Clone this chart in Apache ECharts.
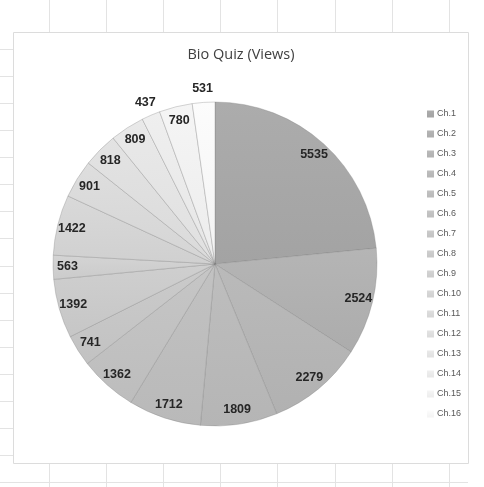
<!DOCTYPE html>
<html>
<head>
<meta charset="utf-8">
<style>
  html, body { margin: 0; padding: 0; background: #ffffff; }
  #chart { width: 484px; height: 487px; }
</style>
<script src="https://cdn.jsdelivr.net/npm/echarts@6/dist/echarts.min.js"></script>
</head>
<body>
<div id="chart"></div>
<script>
// ---- data ----
const categories = ['Ch.1','Ch.2','Ch.3','Ch.4','Ch.5','Ch.6','Ch.7','Ch.8','Ch.9','Ch.10','Ch.11','Ch.12','Ch.13','Ch.14','Ch.15','Ch.16'];
const views = [5535, 2524, 2279, 1809, 1712, 1362, 741, 1392, 563, 1422, 901, 818, 809, 437, 780, 531];
const outsideLabels = ['Ch.14', 'Ch.16'];
const sliceColors = ['#a7a7a7','#b0b0b0','#b5b5b5','#b9b9b9','#bdbdbd','#c1c1c1','#c6c6c6','#cacaca','#cfcfcf','#d4d4d4','#d9d9d9','#dedede','#e4e4e4','#eaeaea','#f0f0f0','#f7f7f7'];

function lighten(hex, amt) {
  const v = Math.max(0, Math.min(255, parseInt(hex.slice(1, 3), 16) + amt));
  const h = v.toString(16).padStart(2, '0');
  return '#' + h + h + h;
}

// ---- background spreadsheet grid ----
const gridColor = '#e3e3e3';
const graphics = [];
const vLines = [49, 106, 163, 220, 277, 335, 392, 449];
vLines.forEach(x => graphics.push({ type: 'line', z: -10, shape: { x1: x + 0.5, y1: 0, x2: x + 0.5, y2: 487 }, style: { stroke: gridColor, lineWidth: 1 } }));
for (let k = 0; k < 17; k++) {
  const y = Math.round(49 + 27.07 * k) + 0.5;
  graphics.push({ type: 'line', z: -10, shape: { x1: 0, y1: y, x2: 468, y2: y }, style: { stroke: gridColor, lineWidth: 1 } });
}
graphics.push({ type: 'rect', z: -5, shape: { x: 13.5, y: 32.5, width: 455, height: 431 }, style: { fill: '#ffffff', stroke: '#dcdcdc', lineWidth: 1 } });

const mainData = categories.map((name, i) => ({
  name, value: views[i],
  itemStyle: {
    color: { type: 'linear', x: 0, y: 0, x2: 0, y2: 1, colorStops: [
      { offset: 0, color: lighten(sliceColors[i], 5) },
      { offset: 1, color: lighten(sliceColors[i], -4) }
    ] }
  }
}));
const inData = categories.map((name, i) => ({ name, value: views[i], label: { show: outsideLabels.indexOf(name) < 0 } }));
const outData = categories.map((name, i) => ({ name, value: views[i], label: { show: outsideLabels.indexOf(name) >= 0 } }));

const labelStyle = {
  position: 'inside', rotate: 0,
  color: '#262626', fontFamily: 'Liberation Sans, Arial, sans-serif',
  fontWeight: 'bold', fontSize: 12.5,
  formatter: p => String(p.value)
};
const overlayCommon = {
  type: 'pie', center: [215, 264], startAngle: 90, clockwise: true,
  silent: true, avoidLabelOverlap: false,
  itemStyle: { color: 'transparent', borderWidth: 0 },
  emphasis: { disabled: true }, labelLine: { show: false },
  label: labelStyle, animation: false, z: 5
};

const chart = echarts.init(document.getElementById('chart'), null, { renderer: 'canvas' });
chart.setOption({
  backgroundColor: '#ffffff',
  animation: false,
  graphic: graphics,
  title: {
    text: 'Bio Quiz (Views)', left: 241, textAlign: 'center', top: 47, padding: 0,
    textStyle: { fontFamily: 'Open Sans, sans-serif', fontSize: 14.5, fontWeight: 'normal', color: '#404040' }
  },
  legend: {
    orient: 'vertical', left: 422, top: 103,
    data: categories, icon: 'rect', itemWidth: 7, itemHeight: 7, itemGap: 8,
    selectedMode: false,
    itemStyle: { borderWidth: 0 },
    textStyle: { fontFamily: 'Liberation Sans, Arial, sans-serif', fontSize: 9, color: '#595959', lineHeight: 12, padding: [0, 0, 0, -2] }
  },
  series: [
    {
      type: 'pie', name: 'Views', center: [215, 264], radius: [0, 162],
      startAngle: 90, clockwise: true, avoidLabelOverlap: false,
      data: mainData,
      itemStyle: { borderColor: 'rgba(120,120,120,0.3)', borderWidth: 1 },
      label: { show: false }, labelLine: { show: false },
      emphasis: { disabled: true }, silent: true, animation: false
    },
    Object.assign({}, overlayCommon, { name: 'labelsIn', radius: [127, 162], data: inData }),
    Object.assign({}, overlayCommon, { name: 'labelsOut', radius: [162, 184], data: outData })
  ]
});
</script>
</body>
</html>
